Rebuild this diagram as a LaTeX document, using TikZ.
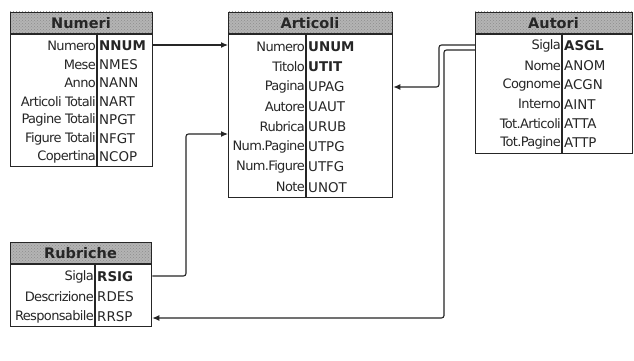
\documentclass[tikz,border=0pt]{standalone}
\usepackage{fontspec}
\setmainfont{DejaVu Sans}
\usetikzlibrary{arrows.meta,patterns}
\definecolor{ink}{HTML}{262626}
\definecolor{barfill}{HTML}{B4B4B4}
\newcommand\mktable[8]{% name, x1, x2, xdiv, top, titlebottom, bottom, title
  \fill[barfill] (#2,#5) rectangle (#3,#6);
  \fill[pattern=crosshatch dots, pattern color=black!45] (#2,#5) rectangle (#3,#6);
  \node[ttl] (#1-title) at ({(#2+#3)/2},{(#5+#6)/2+0.5}) {#8};
  \draw[tblline] (#4,#6) -- (#4,#7);
  \draw[ink, line width=2pt] (#2,#6) -- (#3,#6);
  \node[tbl, minimum width={#3pt-#2pt}, minimum height={#7pt-#5pt}, anchor=north west] (#1) at (#2,#5) {};
}
\begin{document}
\begin{tikzpicture}[x=1pt,y=-1pt,
  tbl/.style={draw=ink, line width=1.3pt, inner sep=0pt},
  tblline/.style={draw=ink, line width=1.1pt},
  ttl/.style={font=\bfseries\fontsize{14.5}{14.5}\selectfont, text=ink, inner sep=0pt},
  lbl/.style={anchor=east, inner sep=0pt, xshift=-1pt, font=\fontsize{13}{13}\selectfont\addfontfeatures{LetterSpace=-5}, text=ink},
  val/.style={anchor=west, inner sep=0pt, xshift=2pt, font=\fontsize{13.4}{13.4}\selectfont, text=ink},
  conn/.style={draw=ink, line width=1.1pt, rounded corners=2.5pt},
  arr/.style={-{Latex[length=7pt,width=6pt]}}
]
\useasboundingbox (0,0) rectangle (634,361);
\fill[white] (0,0) rectangle (634,361);

% Numeri
\mktable{numeri}{10}{152}{97}{12}{34}{166}{Numeri}
\foreach \l/\v [count=\i from 0] in {Numero/\textbf{NNUM}, Mese/NMES, Anno/NANN, Articoli Totali/NART, Pagine Totali/NPGT, Figure Totali/NFGT, Copertina/NCOP}{
  \node[lbl] (numeri-l\i) at (97,{46+\i*18.5}) {\l};
  \node[val] (numeri-v\i) at (97,{46+\i*18.5}) {\v};
}

% Articoli
\mktable{articoli}{228}{392}{306}{12}{34}{197}{Articoli}
\foreach \l/\v [count=\i from 0] in {Numero/\textbf{UNUM}, Titolo/\textbf{UTIT}, Pagina/UPAG, Autore/UAUT, Rubrica/URUB, Num.Pagine/UTPG, Num.Figure/UTFG, Note/UNOT}{
  \node[lbl] (articoli-l\i) at (306,{46.5+\i*20.1}) {\l};
  \node[val] (articoli-v\i) at (306,{46.5+\i*20.1}) {\v};
}

% Autori
\mktable{autori}{475}{632}{562}{12}{34}{153}{Autori}
\foreach \l/\v [count=\i from 0] in {Sigla/\textbf{ASGL}, Nome/ANOM, Cognome/ACGN, Interno/AINT, Tot.Articoli/ATTA, Tot.Pagine/ATTP}{
  \node[lbl] (autori-l\i) at (562,{46+\i*19.4}) {\l};
  \node[val] (autori-v\i) at (562,{46+\i*19.4}) {\v};
}

% Rubriche
\mktable{rubriche}{10}{151}{95}{242}{264}{326}{Rubriche}
\foreach \l/\v [count=\i from 0] in {Sigla/\textbf{RSIG}, Descrizione/RDES, Responsabile/RRSP}{
  \node[lbl] (rubriche-l\i) at (95,{277+\i*20}) {\l};
  \node[val] (rubriche-v\i) at (95,{277+\i*20}) {\v};
}

% connectors
\coordinate (c1) at (186,134);
\coordinate (c2) at (439,45);
\coordinate (c3) at (439,87);
\coordinate (c4) at (444,50);
\coordinate (c5) at (444,318);
\draw[conn,arr] (numeri.east |- 0,45) -- (articoli.west |- 0,45);
\draw[conn,arr] (rubriche.east |- 0,276) -| (c1) -- (articoli.west |- c1);
\draw[conn,arr] (autori.west |- c2) -- (c2) -- (c3) -- (articoli.east |- c3);
\draw[conn,arr] (autori.west |- c4) -- (c4) -- (c5) -- (rubriche.east |- c5);
\end{tikzpicture}
\end{document}
